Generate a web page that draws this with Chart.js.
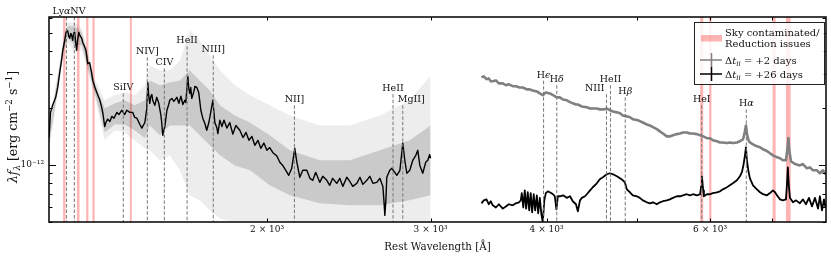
<!DOCTYPE html>
<html>
<head>
<meta charset="utf-8">
<script src="https://cdn.jsdelivr.net/npm/chart.js@4.4.0/dist/chart.umd.min.js"></script>
<style>
  html, body { margin: 0; padding: 0; background: #fff; }
</style>
</head>
<body>
<canvas id="chart" width="831" height="258"></canvas>
<script>
// ── AXIS LIMITS (flux in units of 1e-12 erg cm^-2 s^-1) ──
const FLUX_UNIT = 1e-12;
const X_MIN = 1164.5, X_MAX = 7997;
const Y_MIN = 0.497, Y_MAX = 6.04;

const xTickVals = [2000, 3000, 4000, 5000, 6000, 7000];
const xTickLabels = ['2 × 10³', '3 × 10³', '4 × 10³', '', '6 × 10³', ''];
const yTickVals = [0.5, 0.6, 0.7, 0.8, 0.9, 1, 2, 3, 4, 5, 6];

// ── UV SPECTRUM (binned, black) ──
const uvWave = [1164.5,1169,1175,1184,1190,1196,1202,1205,1211,1214,
  1217,1220,1223,1226,1229,1232,1235,1238,1241,1244,
  1247,1250,1254,1257,1263,1266,1273,1276,1282,1288,
  1294,1298,1304,1311,1321,1327,1331,1337,1341,1347,
  1354,1361,1368,1378,1385,1395,1405,1412,1423,1433,
  1440,1448,1459,1466,1473,1477,1484,1488,1491,1495,
  1499,1503,1506,1514,1521,1529,1537,1540,1544,1548,
  1552,1560,1567,1571,1579,1587,1599,1607,1615,1623,
  1631,1635,1643,1647,1651,1655,1659,1668,1672,1680,
  1688,1697,1705,1714,1722,1731,1739,1748,1752,1757,
  1766,1770,1779,1788,1797,1810,1823,1837,1851,1869,
  1884,1898,1912,1926,1940,1955,1969,1984,1999,2013,
  2028,2049,2064,2079,2095,2110,2126,2142,2153,2169,
  2185,2207,2224,2240,2256,2279,2296,2319,2336,2353,
  2377,2395,2413,2437,2455,2473,2498,2518,2536,2561,
  2580,2600,2625,2645,2665,2672,2678,2685,2691,2711,
  2725,2745,2759,2780,2800,2814,2828,2849,2870,2892,
  2906,2921,2942,2964,2979,2993,3000];
const uvFlux = [1.39,1.89,2.06,2.27,2.56,3.08,3.64,4.03,4.55,4.95,
  5.14,5.08,4.77,4.66,4.95,4.83,4.55,4.95,5.01,4.44,
  4.03,4.55,5.01,4.83,4.66,4.44,4.17,4.03,3.42,3.46,
  3.08,2.79,2.59,2.41,2.19,2.01,1.87,1.59,1.67,1.74,
  1.69,1.80,1.76,1.89,1.84,1.94,1.84,1.94,1.89,1.89,
  1.78,1.76,1.63,1.56,1.63,1.67,1.98,2.72,2.33,2.11,
  2.30,2.35,2.19,2.06,2.27,2.11,1.82,1.67,1.43,1.52,
  1.59,1.94,2.08,2.19,2.24,2.16,2.27,2.11,2.30,2.08,
  2.19,2.13,2.93,2.53,2.38,2.56,2.24,2.44,2.59,2.56,
  2.41,1.94,1.76,1.65,1.52,1.67,1.89,2.19,1.94,1.67,
  1.56,1.46,1.72,1.59,1.72,1.56,1.67,1.45,1.61,1.52,
  1.39,1.48,1.345,1.41,1.265,1.345,1.22,1.30,1.19,1.23,
  1.16,1.11,1.03,0.99,0.933,0.878,0.956,1.22,1.03,0.857,
  0.933,0.933,0.846,0.826,0.91,0.806,0.867,0.826,0.777,0.846,
  0.796,0.846,0.767,0.857,0.816,0.767,0.796,0.857,0.786,0.826,
  0.867,0.796,0.806,0.846,0.767,0.647,0.539,0.647,0.857,0.933,
  0.956,0.91,0.878,0.933,1.30,1.054,0.90,0.933,1.054,1.12,
  1.19,0.99,0.90,1.03,1.054,1.13,1.08];

// ── UV UNBINNED SCATTER (grey envelopes) ──
const envWave = [1165,1181,1196,1208,1220,1241,1263,1282,1304,1337,1371,1405,1440,1477,1495,
  1533,1571,1611,1651,1692,1735,1779,1846,1917,2013,2116,2279,2455,2645,2849,3000];
const envOuterHi = [1.56,2.47,3.48,4.83,5.66,5.66,5.26,4.03,2.86,2.19,2.33,2.41,2.33,2.63,3.35,
  3.16,3.16,3.56,5.14,4.55,3.79,3.16,2.63,2.33,2.06,1.82,1.61,1.61,1.82,2.19,2.97];
const envOuterLo = [1.22,1.82,2.86,3.79,4.44,3.93,4.03,3.08,2.30,1.345,1.52,1.48,1.345,1.22,1.19,
  1.054,1.12,0.933,0.688,0.647,0.573,0.520,0.49,0.49,0.49,0.49,0.49,0.49,0.49,0.49,0.49];
const envInnerHi = [1.48,2.33,3.35,4.55,5.39,5.39,5.01,3.79,2.72,1.99,2.11,2.19,2.06,2.19,2.79,
  2.63,2.72,2.79,3.16,2.79,2.47,2.06,1.82,1.67,1.43,1.19,1.054,1.054,1.19,1.345,1.61];
const envInnerLo = [1.31,1.94,2.97,4.03,4.66,4.28,4.28,3.27,2.41,1.48,1.63,1.63,1.52,1.38,1.61,
  1.43,1.61,1.61,1.61,1.43,1.265,1.12,0.99,0.933,0.777,0.688,0.624,0.609,0.609,0.647,0.688];

// ── OPTICAL, +2 days (grey) ──
const opt2Wave = [3403,3423,3446,3465,3482,3500,3527,3553,3588,3615,
  3642,3678,3706,3742,3770,3808,3836,3865,3904,3933,
  3962,3992,4032,4064,4082,4102,4133,4166,4205,4239,
  4268,4302,4322,4365,4419,4455,4485,4530,4564,4611,
  4644,4679,4716,4761,4798,4832,4880,4918,4953,5003,
  5040,5078,5129,5168,5207,5257,5297,5337,5389,5429,
  5471,5525,5567,5609,5664,5707,5750,5806,5853,5898,
  5952,5999,6041,6101,6149,6193,6255,6301,6348,6412,
  6460,6508,6532,6557,6573,6598,6622,6673,6738,6790,
  6841,6907,6960,7011,7081,7135,7187,7241,7269,7285,
  7302,7332,7405,7496,7553,7628,7685,7742,7819,7877,
  7937,7987];
const opt2Flux = [2.90,2.93,2.83,2.86,2.76,2.76,2.79,2.69,2.69,2.63,
  2.66,2.60,2.60,2.56,2.56,2.50,2.50,2.47,2.44,2.38,
  2.33,2.41,2.38,2.33,2.30,2.27,2.27,2.21,2.19,2.14,
  2.11,2.08,2.08,2.03,2.01,1.98,1.98,1.98,1.96,1.96,
  1.98,1.94,1.91,1.89,1.87,1.82,1.80,1.78,1.74,1.72,
  1.70,1.67,1.63,1.61,1.58,1.54,1.50,1.46,1.41,1.41,
  1.43,1.45,1.46,1.48,1.48,1.46,1.46,1.45,1.43,1.41,
  1.38,1.38,1.345,1.33,1.31,1.31,1.30,1.31,1.30,1.31,
  1.33,1.36,1.45,1.61,1.46,1.345,1.31,1.28,1.25,1.235,
  1.205,1.18,1.148,1.12,1.095,1.08,1.054,1.054,1.22,1.38,
  1.19,1.04,1.007,0.99,1.007,0.956,0.967,0.933,0.933,0.90,
  0.933,0.889];

// ── OPTICAL, +26 days (black) ──
const opt26Wave = [3403,3423,3446,3465,3482,3500,3527,3553,3588,3615,
  3642,3678,3706,3734,3752,3761,3775,3789,3802,3817,
  3831,3845,3859,3874,3888,3904,3917,3933,3947,3962,
  3977,3992,4012,4032,4064,4082,4098,4113,4133,4166,
  4205,4239,4268,4302,4322,4345,4365,4399,4419,4455,
  4485,4530,4564,4599,4644,4679,4716,4761,4798,4832,
  4856,4880,4918,4953,5003,5040,5078,5129,5168,5207,
  5257,5297,5337,5389,5429,5471,5525,5567,5609,5664,
  5707,5750,5806,5853,5868,5878,5898,5908,5952,5999,
  6041,6101,6149,6193,6255,6301,6348,6412,6460,6492,
  6516,6541,6557,6573,6598,6622,6673,6738,6790,6841,
  6907,6960,7011,7047,7081,7135,7187,7241,7258,7275,
  7293,7313,7368,7424,7496,7553,7609,7666,7724,7781,
  7840,7877,7918,7957,7987];
const opt26Flux = [0.624,0.647,0.655,0.617,0.640,0.609,0.593,0.617,0.585,0.601,
  0.617,0.609,0.624,0.632,0.647,0.707,0.593,0.731,0.585,0.714,
  0.573,0.707,0.559,0.697,0.573,0.688,0.553,0.667,0.553,0.495,
  0.647,0.707,0.722,0.714,0.697,0.680,0.579,0.680,0.680,0.688,
  0.667,0.680,0.640,0.617,0.566,0.647,0.667,0.680,0.697,0.731,
  0.759,0.796,0.837,0.857,0.889,0.90,0.889,0.867,0.846,0.826,
  0.806,0.740,0.714,0.688,0.680,0.667,0.647,0.632,0.624,0.632,
  0.617,0.632,0.640,0.647,0.655,0.667,0.680,0.680,0.688,0.697,
  0.688,0.697,0.688,0.697,0.767,0.867,0.731,0.680,0.697,0.697,
  0.707,0.714,0.722,0.740,0.759,0.777,0.796,0.826,0.867,0.912,
  0.991,1.12,1.235,1.054,0.922,0.846,0.777,0.740,0.714,0.697,
  0.688,0.707,0.731,0.714,0.688,0.655,0.647,0.655,0.777,0.967,
  0.777,0.667,0.632,0.647,0.624,0.655,0.617,0.667,0.601,0.667,
  0.585,0.680,0.573,0.655,0.593];

// ── LINE IDENTIFICATIONS ──
const lineNames = ['Lyα','NV','SiIV','NIV]','CIV','HeII','NIII]','NII]','HeII','MgII]',
  'Hϵ','Hδ','NIII','HeII','Hβ','HeI','Hα'];
const lineWaves = [1216,1240,1400,1486,1550,1640,1750,2140,2733,2800,
  3970,4102,4640,4686,4861,5876,6563];
const lineTops = [Y_MAX,Y_MAX,2.38,3.70,3.23,4.23,3.79,2.06,2.36,2.06,
  2.78,2.63,2.36,2.63,2.27,2.06,1.96];
const lineAlign = ['right','left','center','center','center','center','center','center','center','left',
  'center','center','right','center','center','center','center'];
const lineDx = [4,-4,0,0,0,0,0,0,0,-5,0,0,-2,0,0,0,0];

// ── SKY CONTAMINATED / REDUCTION ISSUE RANGES ──
const bandLo = [1206,1248,1277,1297,1423,5853,5985,7005,7241];
const bandHi = [1213,1256,1284,1304,1430,5898,6019,7058,7326];

const FONT = '"DejaVu Serif"';
const pts = (w, f) => w.map((v, i) => ({ x: v, y: f[i] * FLUX_UNIT }));

// text with italic greek letters, sub- and superscripts
function drawRich(ctx, parts, x, y, size, align) {
  const fontFor = p => {
    const it = p[1].includes('i') ? 'italic ' : '';
    const small = p[1].includes('sub') || p[1].includes('sup');
    return it + (small ? size * 0.7 : size) + 'px ' + FONT;
  };
  let w = 0;
  parts.forEach(p => { ctx.font = fontFor(p); w += ctx.measureText(p[0]).width; });
  let cx = align === 'center' ? x - w / 2 : align === 'right' ? x - w : x;
  ctx.textAlign = 'left';
  parts.forEach(p => {
    ctx.font = fontFor(p);
    const dy = p[1].includes('sub') ? size * 0.25 : p[1].includes('sup') ? -size * 0.42 : 0;
    ctx.fillText(p[0], cx, y + dy);
    cx += ctx.measureText(p[0]).width;
  });
}
function greekParts(s) {
  return s.split(/([α-ωϵ])/).filter(t => t).map(t => [t, /[α-ωϵ]/.test(t) ? 'i' : '']);
}

const bandsPlugin = {
  id: 'bands',
  beforeDatasetsDraw(chart) {
    const { ctx, chartArea: a, scales: { x } } = chart;
    ctx.save();
    ctx.fillStyle = 'rgba(255,40,40,0.35)';
    bandLo.forEach((lo, i) => {
      const x0 = x.getPixelForValue(lo), x1 = x.getPixelForValue(bandHi[i]);
      ctx.fillRect(x0, a.top, x1 - x0, a.bottom - a.top);
    });
    ctx.restore();
  }
};

const lineIdPlugin = {
  id: 'lineIds',
  afterDatasetsDraw(chart) {
    const { ctx, chartArea: a, scales: { x, y } } = chart;
    ctx.save();
    ctx.strokeStyle = '#777';
    ctx.lineWidth = 1;
    ctx.setLineDash([3.5, 2]);
    lineWaves.forEach((w, i) => {
      const px = x.getPixelForValue(w);
      const top = Math.max(a.top, y.getPixelForValue(lineTops[i] * FLUX_UNIT));
      ctx.beginPath();
      ctx.moveTo(px, top);
      ctx.lineTo(px, a.bottom);
      ctx.stroke();
      ctx.fillStyle = '#111';
      drawRich(ctx, greekParts(lineNames[i]), px + lineDx[i], top - 3, 9.5, lineAlign[i]);
    });
    ctx.restore();
  }
};

const framePlugin = {
  id: 'frame',
  afterDraw(chart) {
    const { ctx, chartArea: a, scales: { x, y } } = chart;
    ctx.save();
    ctx.strokeStyle = '#000';
    ctx.lineWidth = 1;
    ctx.beginPath();
    x.ticks.forEach(t => {
      const px = Math.round(x.getPixelForValue(t.value)) + 0.5;
      ctx.moveTo(px, a.bottom); ctx.lineTo(px, a.bottom - 3.5);
      ctx.moveTo(px, a.top); ctx.lineTo(px, a.top + 3.5);
    });
    y.ticks.forEach(t => {
      const py = Math.round(y.getPixelForValue(t.value)) + 0.5;
      const len = t.major ? 7 : 3.5;
      ctx.moveTo(a.left, py); ctx.lineTo(a.left + len, py);
      ctx.moveTo(a.right, py); ctx.lineTo(a.right - len, py);
    });
    ctx.stroke();
    ctx.lineWidth = 1.5;
    ctx.strokeRect(a.left, a.top, a.right - a.left, a.bottom - a.top);

    // y axis title
    ctx.fillStyle = '#111';
    ctx.translate(17, 127);
    ctx.rotate(-Math.PI / 2);
    drawRich(ctx, [['λ', 'i'], ['f', 'i'], ['λ', 'isub'], [' [erg cm', ''], ['−2', 'sup'],
      [' s', ''], ['−1', 'sup'], [']', '']], 0, 0, 12.5, 'center');
    ctx.restore();
  }
};

const legendPlugin = {
  id: 'legendBox',
  afterDraw(chart) {
    const { ctx, chartArea: a } = chart;
    const bx = a.right - 132, by = a.top + 5, bw = 130, bh = 62;
    ctx.save();
    ctx.fillStyle = 'rgba(255,255,255,0.85)';
    ctx.fillRect(bx, by, bw, bh);
    ctx.strokeStyle = '#222';
    ctx.lineWidth = 1;
    ctx.strokeRect(bx + 0.5, by + 0.5, bw, bh);

    ctx.fillStyle = 'rgba(255,40,40,0.35)';
    ctx.fillRect(bx + 7, by + 13, 21, 6.5);

    const marker = (yy, color) => {
      ctx.strokeStyle = color;
      ctx.lineWidth = 1.5;
      ctx.beginPath();
      ctx.moveTo(bx + 6, yy); ctx.lineTo(bx + 28, yy);
      ctx.moveTo(bx + 17.5, yy - 7); ctx.lineTo(bx + 17.5, yy + 7);
      ctx.stroke();
    };
    marker(by + 38, '#808080');
    marker(by + 52, '#000');

    ctx.fillStyle = '#111';
    const tx = bx + 31;
    drawRich(ctx, [['Sky contaminated/', '']], tx, by + 13.5, 10, 'left');
    drawRich(ctx, [['Reduction issues', '']], tx, by + 25, 10, 'left');
    drawRich(ctx, [['Δ', ''], ['t', 'i'], ['ii', 'isub'], [' = +2 days', '']], tx, by + 41.5, 10, 'left');
    drawRich(ctx, [['Δ', ''], ['t', 'i'], ['ii', 'isub'], [' = +26 days', '']], tx, by + 55.5, 10, 'left');
    ctx.restore();
  }
};

new Chart(document.getElementById('chart'), {
  type: 'line',
  data: {
    datasets: [
      { label: 'outerHi', data: pts(envWave, envOuterHi), borderColor: 'rgba(0,0,0,0)', backgroundColor: 'rgba(0,0,0,0.07)', fill: '+1', order: 4 },
      { label: 'outerLo', data: pts(envWave, envOuterLo), borderColor: 'rgba(0,0,0,0)', fill: false, order: 4 },
      { label: 'innerHi', data: pts(envWave, envInnerHi), borderColor: 'rgba(0,0,0,0)', backgroundColor: 'rgba(0,0,0,0.15)', fill: '+1', order: 3 },
      { label: 'innerLo', data: pts(envWave, envInnerLo), borderColor: 'rgba(0,0,0,0)', fill: false, order: 3 },
      { label: 'UV', data: pts(uvWave, uvFlux), borderColor: '#000', borderWidth: 1.4, fill: false, order: 1 },
      { label: '+2 days', data: pts(opt2Wave, opt2Flux), borderColor: '#808080', borderWidth: 2.6, fill: false, order: 1 },
      { label: '+26 days', data: pts(opt26Wave, opt26Flux), borderColor: '#000', borderWidth: 1.8, fill: false, order: 1 }
    ]
  },
  options: {
    responsive: false,
    animation: false,
    devicePixelRatio: 1,
    layout: { padding: { left: 0, right: 5, top: 17, bottom: 0 } },
    elements: {
      point: { radius: 0 },
      line: { tension: 0, borderJoinStyle: 'round' }
    },
    plugins: { legend: { display: false }, tooltip: { enabled: false } },
    scales: {
      x: {
        type: 'logarithmic',
        min: X_MIN, max: X_MAX,
        afterBuildTicks: s => { s.ticks = xTickVals.map(v => ({ value: v })); },
        afterFit: s => { s.height = 36; },
        grid: { display: false, drawTicks: false },
        border: { display: false },
        ticks: {
          autoSkip: false, maxRotation: 0, padding: 2, color: '#111',
          font: { family: FONT, size: 9 },
          callback: (v) => xTickLabels[xTickVals.indexOf(v)] ?? ''
        },
        title: {
          display: true, text: 'Rest Wavelength [Å]', color: '#111',
          font: { family: FONT, size: 10.3 }, padding: { top: 0, bottom: 4 }
        }
      },
      y: {
        type: 'logarithmic',
        min: Y_MIN * FLUX_UNIT, max: Y_MAX * FLUX_UNIT,
        afterBuildTicks: s => { s.ticks = yTickVals.map(v => ({ value: v * FLUX_UNIT, major: v === 1 })); },
        afterFit: s => { s.width = 49; },
        grid: { display: false, drawTicks: false },
        border: { display: false },
        ticks: {
          autoSkip: false, padding: 5, color: '#111',
          font: { family: FONT, size: 9 },
          callback: (v) => Math.abs(v / FLUX_UNIT - 1) < 1e-6 ? '10⁻¹²' : ''
        }
      }
    }
  },
  plugins: [bandsPlugin, lineIdPlugin, framePlugin, legendPlugin]
});
</script>
</body>
</html>
